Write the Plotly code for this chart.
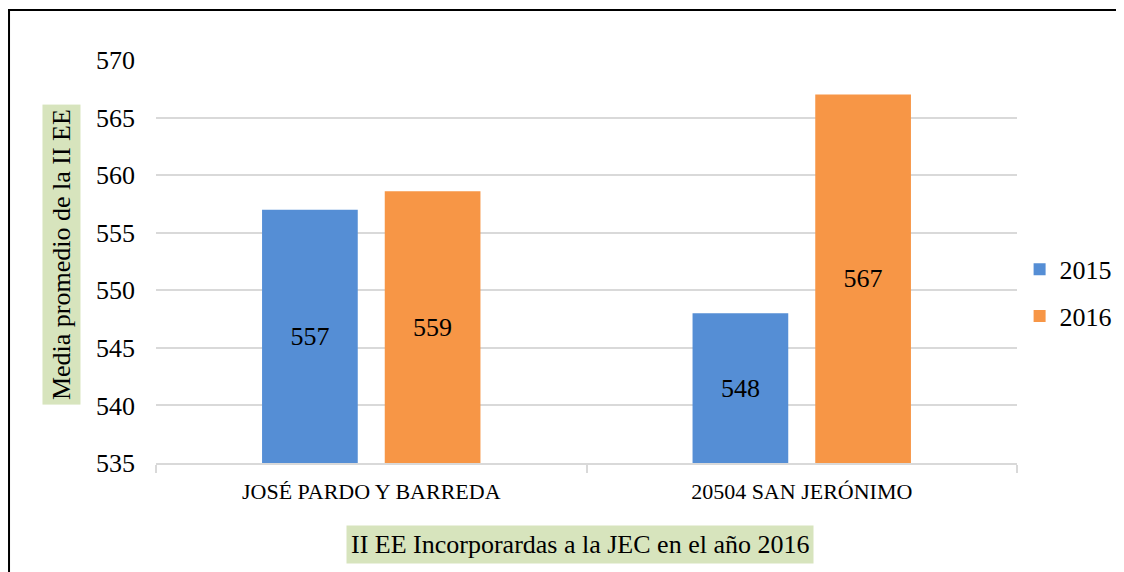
import plotly.graph_objects as go

# Datos
categorias = ["JOSÉ PARDO Y BARREDA", "20504 SAN JERÓNIMO"]
anios = ["2015", "2016"]
valores_2015 = [557.0, 548.0]
valores_2016 = [558.6, 567.0]
colores = ["#558ED5", "#F79646"]
base_eje = 535
ticks_y = [535, 540, 545, 550, 555, 560, 565, 570]

fuente = '"Liberation Serif", "Times New Roman", serif'

fig = go.Figure()
for anio, vals, col in zip(anios, [valores_2015, valores_2016], colores):
    fig.add_trace(go.Bar(
        x=categorias,
        y=[v - base_eje for v in vals],
        base=base_eje,
        name=anio,
        legendgroup=anio,
        marker=dict(color=col, line=dict(width=0)),
        text=[f"{v:.0f}" for v in vals],
        textposition="inside",
        insidetextanchor="middle",
        textangle=0,
        textfont=dict(family=fuente, size=26, color="black"),
    ))

fig.update_layout(
    width=1124, height=572,
    # la página añade 8px de margen, se compensa aquí
    margin=dict(l=148, r=115, t=52, b=117, autoexpand=False),
    paper_bgcolor="white", plot_bgcolor="white",
    font=dict(family=fuente, size=26, color="black"),
    barmode="group", bargap=0.43, bargroupgap=0.22,
    showlegend=True,
    legend=dict(xref="container", yref="container",
                x=0.9, y=0.502, xanchor="left", yanchor="middle",
                font=dict(family=fuente, size=26),
                traceorder="grouped", tracegroupgap=10),
    xaxis=dict(showline=True, linecolor="#D9D9D9", linewidth=1.5,
               ticks="outside", tickson="boundaries", ticklen=8,
               tickcolor="#D9D9D9", tickwidth=1.5,
               tickfont=dict(family=fuente, size=22),
               ticklabelstandoff=8),
    yaxis=dict(range=[535, 570], tickvals=ticks_y,
               showgrid=True, gridcolor="#D9D9D9", gridwidth=1.5,
               zeroline=False, showline=False, ticks="",
               ticklabelstandoff=20,
               tickfont=dict(family=fuente, size=26)),
    annotations=[
        dict(text="Media promedio de la II EE", xref="paper", yref="paper",
             x=-0.1103, y=0.516, xanchor="center", yanchor="middle",
             textangle=-90, showarrow=False, bgcolor="#D7E4BD", borderpad=4,
             font=dict(family=fuente, size=26)),
        dict(text="II EE Incorporardas a la JEC en el año 2016", xref="paper", yref="paper",
             x=0.4925, y=-0.201, xanchor="center", yanchor="middle",
             showarrow=False, bgcolor="#D7E4BD", borderpad=4,
             font=dict(family=fuente, size=26)),
    ],
    shapes=[
        dict(type="rect", xref="paper", yref="paper",
             x0=-0.1707, x1=1.14, y0=-0.3, y1=1.124,
             line=dict(color="black", width=2), fillcolor="rgba(0,0,0,0)"),
    ],
)

fig.write_html("out.html")
